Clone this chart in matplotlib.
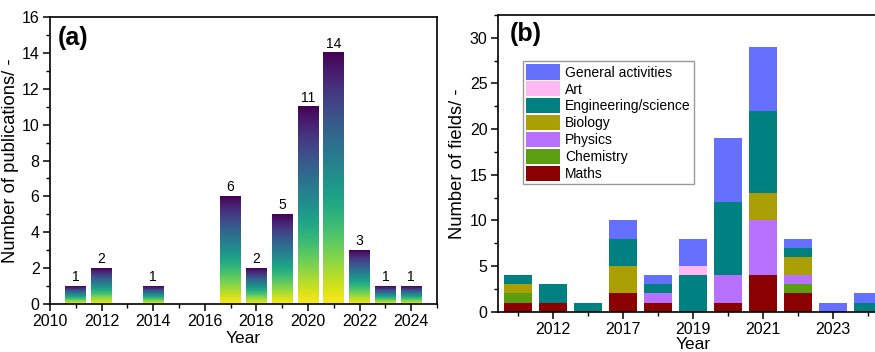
import numpy as np
import matplotlib
matplotlib.use("Agg")
import matplotlib.pyplot as plt
from matplotlib.ticker import MultipleLocator, FixedLocator

plt.rcParams["font.family"] = ["Liberation Sans", "DejaVu Sans"]

# panel (a): publications per year
pub_years = [2011, 2012, 2014, 2017, 2018, 2019, 2020, 2021, 2022, 2023, 2024]
pub_counts = [1, 2, 1, 6, 2, 5, 11, 14, 3, 1, 1]

# panel (b): fields per year (stacked, bottom to top)
field_years = ["2011", "2012", "2014", "2017", "2018", "2019", "2020", "2021", "2022", "2023", "2024"]
maths = [1, 1, 0, 2, 1, 0, 1, 4, 2, 0, 0]
chemistry = [1, 0, 0, 0, 0, 0, 0, 0, 1, 0, 0]
physics = [0, 0, 0, 0, 1, 0, 3, 6, 1, 0, 0]
biology = [1, 0, 0, 3, 0, 0, 0, 3, 2, 0, 0]
engineering = [1, 2, 1, 3, 1, 4, 8, 9, 1, 0, 1]
art = [0, 0, 0, 0, 0, 1, 0, 0, 0, 0, 0]
general = [0, 0, 0, 2, 1, 3, 7, 7, 1, 1, 1]

series = [
    ("Maths", maths, "#8b0000"),
    ("Chemistry", chemistry, "#5c9e12"),
    ("Physics", physics, "#b870ff"),
    ("Biology", biology, "#aa9f05"),
    ("Engineering/science", engineering, "#008080"),
    ("Art", art, "#ffb8f2"),
    ("General activities", general, "#6670ff"),
]

fig = plt.figure(figsize=(8.75, 3.52), dpi=100)

TICK_FS = 11.5
XLABEL_FS = 12.5
YLABEL_FS = 13.2


def style_axes(ax):
    for s in ax.spines.values():
        s.set_linewidth(1.2)
    ax.tick_params(which="major", direction="out", length=5, width=1.1,
                   labelsize=TICK_FS, pad=2.5, top=False, right=False)
    ax.tick_params(which="minor", direction="out", length=3, width=1.0,
                   top=False, right=False)


# ---------- (a) ----------
ax1 = fig.add_axes([0.0571, 0.1364, 0.4423, 0.815])
width = 0.8
grad = np.linspace(0, 1, 256).reshape(-1, 1)
for x, h in zip(pub_years, pub_counts):
    ax1.imshow(grad, cmap="viridis_r", origin="lower", aspect="auto",
               extent=(x - width / 2, x + width / 2, 0, h), zorder=2)
    ax1.text(x, h + 0.12, str(h), ha="center", va="bottom", fontsize=10)
ax1.set_xlim(2010, 2025)
ax1.set_ylim(0, 16)
ax1.xaxis.set_major_locator(MultipleLocator(2))
ax1.xaxis.set_minor_locator(MultipleLocator(1))
ax1.yaxis.set_major_locator(MultipleLocator(2))
ax1.yaxis.set_minor_locator(MultipleLocator(1))
style_axes(ax1)
ax1.set_xlabel("Year", fontsize=XLABEL_FS, labelpad=1)
ax1.set_ylabel("Number of publications/ -", fontsize=YLABEL_FS, labelpad=2)
ax1.text(0.02, 0.97, "(a)", transform=ax1.transAxes, fontsize=18,
         fontweight="bold", ha="left", va="top")

# ---------- (b) ----------
ax2 = fig.add_axes([0.5691, 0.1145, 0.4457, 0.843])
pos = np.arange(1, len(field_years) + 1)
bottom = np.zeros(len(field_years))
handles = {}
for name, vals, col in series:
    vals = np.array(vals)
    b = ax2.bar(pos, vals, width=0.8, bottom=bottom, color=col, zorder=2)
    handles[name] = b
    bottom += vals
ax2.set_xlim(0.43, 11.57)
ax2.set_ylim(0, 32.5)
ax2.xaxis.set_major_locator(FixedLocator(pos[1::2]))
ax2.set_xticklabels([field_years[i] for i in range(1, len(field_years), 2)])
ax2.xaxis.set_minor_locator(FixedLocator(pos[0::2]))
ax2.yaxis.set_major_locator(MultipleLocator(5))
ax2.yaxis.set_minor_locator(MultipleLocator(2.5))
style_axes(ax2)
ax2.set_xlabel("Year", fontsize=XLABEL_FS, labelpad=0)
ax2.set_ylabel("Number of fields/ -", fontsize=YLABEL_FS, labelpad=3)
ax2.text(0.03, 0.975, "(b)", transform=ax2.transAxes, fontsize=18,
         fontweight="bold", ha="left", va="top")

order = ["General activities", "Art", "Engineering/science", "Biology",
         "Physics", "Chemistry", "Maths"]
leg = ax2.legend([handles[n] for n in order], order, loc="upper left",
                 bbox_to_anchor=(0.064, 0.845), borderaxespad=0,
                 fontsize=10, handlelength=2.4, handleheight=1.3,
                 labelspacing=0.12, handletextpad=0.4, borderpad=0.25,
                 fancybox=False, framealpha=1, edgecolor="#999999")
leg.get_frame().set_linewidth(1.0)

fig.savefig("out.png", dpi=100)
